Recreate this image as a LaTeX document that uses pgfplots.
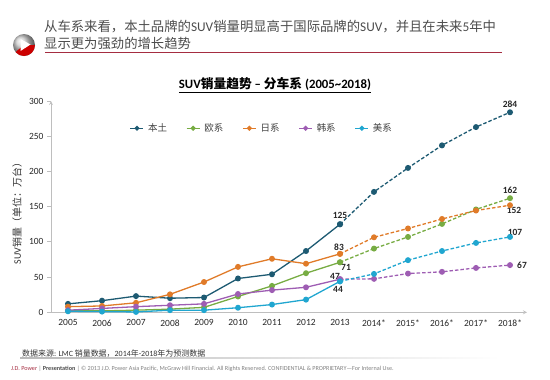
\documentclass[border=0pt]{standalone}
\usepackage{pgfplots}
\pgfplotsset{compat=1.18}
\usetikzlibrary{calc}
\usepackage{fontspec}
\setmainfont{Carlito}
\newfontfamily\cjk{Noto Sans CJK SC}
\definecolor{cBT}{RGB}{29,90,114}
\definecolor{cEU}{RGB}{119,172,67}
\definecolor{cJP}{RGB}{224,123,41}
\definecolor{cKR}{RGB}{158,93,179}
\definecolor{cUS}{RGB}{32,166,208}
\definecolor{jdred}{RGB}{165,45,65}
\definecolor{axgray}{RGB}{190,190,190}
\begin{document}
\begin{tikzpicture}
\path[use as bounding box] (0,0) rectangle (550bp,-380bp);
% header icon
\shade[ball color=gray!40] (24bp,-45bp) circle (11bp);
\fill[red!80!black] (24bp,-45bp) -- ($(24bp,-45bp)+(0:11bp)$) arc (0:-140:11bp) -- cycle;
\fill[white] (20.5bp,-39bp) -- (30.5bp,-44.5bp) -- (20.5bp,-51bp) -- cycle;
% header text
\node[anchor=west, inner sep=0pt, font=\fontsize{13.4}{15}\selectfont, text=black!70] at (44bp,-27bp)
 {{\cjk 从车系来看，本土品牌的}SUV{\cjk 销量明显高于国际品牌的}SUV{\cjk ，并且在未来}5{\cjk 年中}};
\node[anchor=west, inner sep=0pt, font=\fontsize{13.4}{15}\selectfont, text=black!70] at (44bp,-43bp)
 {{\cjk 显示更为强劲的增长趋势}};
\draw[jdred, line width=1bp] (45bp,-52bp) -- (502bp,-52bp);
% title
\node[inner sep=0pt, font=\fontsize{12.8}{14}\selectfont\bfseries] at (275bp,-85bp)
 {\underline{SUV{\cjk\bfseries 销量趋势} – {\cjk\bfseries 分车系} (2005\textasciitilde2018)}};
% y label
\node[rotate=90, inner sep=0pt, font=\fontsize{10}{12}\selectfont, text=black!80] at (17bp,-211bp)
 {SUV{\cjk 销量（单位：万台）}};
\begin{axis}[
  at={(51bp,-312.3bp)}, anchor=south west,
  scale only axis, width=476bp, height=211.3bp,
  xmin=-0.5, xmax=13.5, ymin=0, ymax=300,
  axis lines=left, axis line style={axgray, line width=0.8bp, -},
  axis x line=bottom, axis y line=left,
  xtick={0,...,13},
  xticklabels={2005,2006,2007,2008,2009,2010,2011,2012,2013,2014*,2015*,2016*,2017*,2018*},
  x tick style={draw=none},
  extra x ticks={-0.5,0.5,...,13.5},
  extra x tick labels={},
  extra x tick style={tick style={axgray, line width=0.8bp, draw=axgray}, major tick length=4bp},
  ytick={0,50,...,300},
  y tick style={axgray, line width=0.8bp},
  major tick length=4bp,
  tick align=outside,
  ticklabel style={font=\fontsize{9.5}{11}\selectfont, text=black!85, /pgf/number format/assume math mode=true},
  clip=false,
  legend style={at={(0.443,0.871)}, anchor=center, draw=none, fill=none,
    legend columns=5, font=\cjk\fontsize{9.5}{11}\selectfont, text=black!75,
    /tikz/every even column/.append style={column sep=17bp},
    /tikz/every odd column/.append style={column sep=2bp}},
  legend image code/.code={\draw[#1,mark repeat=2,mark phase=2,solid,mark size=1.8bp] plot coordinates {(0bp,0bp) (6.5bp,0bp) (13bp,0bp)};},
  every axis plot/.append style={line width=1.3bp, mark=*, mark size=2.3bp},
]
% solid (historic)
\addplot[cBT, mark options={fill=cBT}] coordinates {(0,12) (1,16.5) (2,23) (3,20) (4,21) (5,48) (6,54) (7,87) (8,125)};
\addlegendentry{本土}
\addplot[cEU, mark options={fill=cEU}] coordinates {(0,2) (1,2) (2,3) (3,4.5) (4,7) (5,22.5) (6,37.5) (7,55.5) (8,71)};
\addlegendentry{欧系}
\addplot[cJP, mark options={fill=cJP}] coordinates {(0,8) (1,9) (2,13.5) (3,25.5) (4,43) (5,64.5) (6,76) (7,69) (8,83)};
\addlegendentry{日系}
\addplot[cKR, mark options={fill=cKR}] coordinates {(0,3) (1,5.5) (2,8) (3,10) (4,12) (5,26) (6,31.5) (7,35.5) (8,47)};
\addlegendentry{韩系}
\addplot[cUS, mark options={fill=cUS}] coordinates {(0,1.5) (1,1) (2,0.5) (3,3) (4,3) (5,6.5) (6,11) (7,18) (8,44)};
\addlegendentry{美系}
% dashed (forecast)
\addplot[cBT, dash pattern=on 3.5bp off 2bp, mark options={fill=cBT,solid}, forget plot] coordinates {(8,125) (9,171) (10,205) (11,237) (12,263) (13,284)};
\addplot[cEU, dash pattern=on 3.5bp off 2bp, mark options={fill=cEU,solid}, forget plot] coordinates {(8,71) (9,90.5) (10,107) (11,125.5) (12,146) (13,162)};
\addplot[cJP, dash pattern=on 3.5bp off 2bp, mark options={fill=cJP,solid}, forget plot] coordinates {(8,83) (9,106.5) (10,119) (11,132.5) (12,144.5) (13,152)};
\addplot[cKR, dash pattern=on 3.5bp off 2bp, mark options={fill=cKR,solid}, forget plot] coordinates {(8,47) (9,47.5) (10,55) (11,57.5) (12,63) (13,67)};
\addplot[cUS, dash pattern=on 3.5bp off 2bp, mark options={fill=cUS,solid}, forget plot] coordinates {(8,44) (9,54.5) (10,74) (11,87) (12,98.5) (13,107)};
% data labels
\begin{scope}[every node/.style={font=\fontsize{9.5}{11}\selectfont\bfseries, text=black!85, inner sep=1bp}]
\node[anchor=south, yshift=4bp] at (axis cs:13,284) {284};
\node[anchor=south, yshift=3bp] at (axis cs:13,162) {162};
\node[anchor=north, xshift=4bp, yshift=-1bp] at (axis cs:13,152) {152};
\node[anchor=south, xshift=5bp, yshift=0.5bp] at (axis cs:13,107) {107};
\node[anchor=west, xshift=6bp] at (axis cs:13,67) {67};
\node[anchor=south, yshift=4bp] at (axis cs:8,125) {125};
\node[anchor=south, xshift=-1bp, yshift=2bp] at (axis cs:8,83) {83};
\node[anchor=north, xshift=6bp, yshift=-0.5bp] at (axis cs:8,71) {71};
\node[anchor=east, xshift=1bp, yshift=2.5bp] at (axis cs:8,47) {47};
\node[anchor=north, xshift=-2bp, yshift=-4bp] at (axis cs:8,44) {44};
\end{scope}
\end{axis}
% footnote
\node[anchor=west, inner sep=0pt, font=\fontsize{8}{9}\selectfont, text=black!80] at (22bp,-353.5bp)
 {{\cjk 数据来源}: LMC {\cjk 销量数据，}2014{\cjk 年}-2018{\cjk 年为预测数据}};
\shade[left color=gray!55, right color=white] (20bp,-357.6bp) rectangle (500bp,-358.8bp);
% footer
\node[anchor=west, inner sep=0pt, font=\fontsize{6.2}{7}\selectfont, text=gray] at (11bp,-368.5bp)
 {\textcolor{jdred}{J.D. Power} | \textcolor{black!70}{\textbf{Presentation}} | © 2013 J.D. Power Asia Pacific, McGraw Hill Financial. All Rights Reserved. CONFIDENTIAL \& PROPRIETARY—For Internal Use.};
\end{tikzpicture}
\end{document}
